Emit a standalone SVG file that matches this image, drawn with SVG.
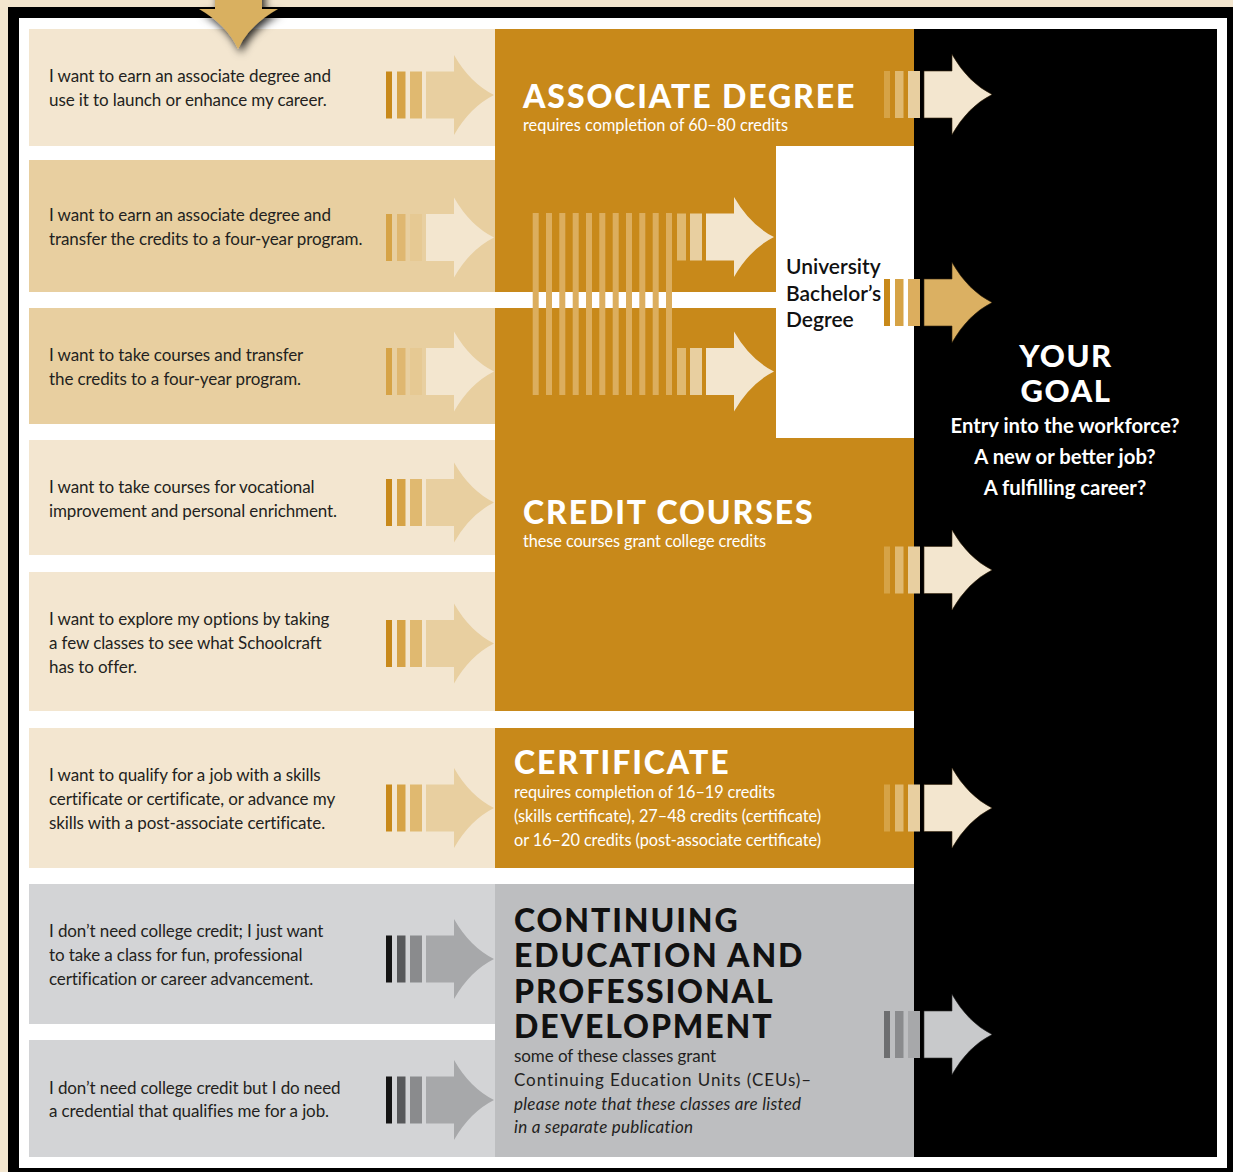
<svg xmlns="http://www.w3.org/2000/svg" xmlns:xlink="http://www.w3.org/1999/xlink" width="1233" height="1172" viewBox="0 0 1233 1172">
<style>
.body{font-family:Lato,"Open Sans","Liberation Sans",sans-serif;font-size:17px;letter-spacing:-0.1px;fill:#231f20}
.wsub{font-family:Lato,"Open Sans","Liberation Sans",sans-serif;font-size:16.3px;fill:#ffffff}
.ttl{font-family:Lato,"Open Sans","Liberation Sans",sans-serif;font-size:32px;font-weight:900;letter-spacing:1.9px}
.lt .s1{fill:#c8891a}.lt .s2{fill:#d6a346}.lt .s3{fill:#e0b970}.lt .a{fill:#e8cfa0}
.tn .s1{fill:#d6a346}.tn .s2{fill:#dfb770}.tn .s3{fill:#e6c993}.tn .a{fill:#f3e6cf}
.gr .s1{fill:#141414}.gr .s2{fill:#58595b}.gr .s3{fill:#8a8b8d}.gr .a{fill:#a7a8aa}
.rg .s1{fill:#d6a346}.rg .s2{fill:#e0b970}.rg .s3{fill:#e8cfa0}.rg .a{fill:#f3e6cf;stroke:#3a2a10;stroke-width:0.6}
.rb .s1{fill:#c8891a}.rb .s2{fill:#d6a346}.rb .s3{fill:#dcae5e}.rb .a{fill:#dbb062;stroke:#3a2a10;stroke-width:0.6}
.rc .s1{fill:#6d6e70}.rc .s2{fill:#8a8b8d}.rc .s3{fill:#a7a8aa}.rc .a{fill:#c8c9cb;stroke:#333;stroke-width:0.6}
.md .s2{fill:#e0b970}.md .s3{fill:#e8cfa0}.md .a{fill:#f3e6cf}
.stripe{fill:#dcae5e}
</style>
<defs>
<path id="arw" d="M0,-23.5 H28 V-40 Q44,-12 68,0 Q44,12 28,40 V23.5 H0 Z"/>
<filter id="sh" x="-50%" y="-50%" width="200%" height="200%">
<feDropShadow dx="3" dy="4" stdDeviation="4" flood-color="#000" flood-opacity="0.85"/>
</filter>
</defs>

<!-- background and frame -->
<rect x="0" y="0" width="1233" height="1172" fill="#f3e6cf"/>
<rect x="8" y="7" width="1225" height="1165" fill="#000"/>
<rect x="19" y="18" width="1208" height="1150" fill="#ffffff"/>

<!-- left rows -->
<g id="row1"><rect x="29" y="29" width="466" height="117" fill="#f3e6d0"/>
<text class="body" x="49" y="82">I want to earn an associate degree and</text>
<text class="body" x="49" y="106">use it to launch or enhance my career.</text></g>
<g id="row2"><rect x="29" y="160" width="466" height="132" fill="#e8cfa0"/>
<text class="body" x="49" y="221">I want to earn an associate degree and</text>
<text class="body" x="49" y="245">transfer the credits to a four-year program.</text></g>
<g id="row3"><rect x="29" y="308" width="466" height="116" fill="#e8cfa0"/>
<text class="body" x="49" y="361">I want to take courses and transfer</text>
<text class="body" x="49" y="385">the credits to a four-year program.</text></g>
<g id="row4"><rect x="29" y="440" width="466" height="115" fill="#f3e6d0"/>
<text class="body" x="49" y="493">I want to take courses for vocational</text>
<text class="body" x="49" y="517">improvement and personal enrichment.</text></g>
<g id="row5"><rect x="29" y="572" width="466" height="139" fill="#f3e6d0"/>
<text class="body" x="49" y="625">I want to explore my options by taking</text>
<text class="body" x="49" y="649">a few classes to see what Schoolcraft</text>
<text class="body" x="49" y="673">has to offer.</text></g>
<g id="row6"><rect x="29" y="728" width="466" height="140" fill="#f3e6d0"/>
<text class="body" x="49" y="781">I want to qualify for a job with a skills</text>
<text class="body" x="49" y="805">certificate or certificate, or advance my</text>
<text class="body" x="49" y="829">skills with a post-associate certificate.</text></g>
<g id="row7"><rect x="29" y="884" width="466" height="140" fill="#d3d4d6"/>
<text class="body" x="49" y="937">I don’t need college credit; I just want</text>
<text class="body" x="49" y="961">to take a class for fun, professional</text>
<text class="body" x="49" y="985">certification or career advancement.</text></g>
<g id="row8"><rect x="29" y="1040" width="466" height="117" fill="#d3d4d6"/>
<text class="body" x="49" y="1094">I don’t need college credit but I do need</text>
<text class="body" x="49" y="1117">a credential that qualifies me for a job.</text></g>

<!-- middle column -->
<g id="gold-panel">
<rect x="495" y="29" width="419" height="682" fill="#c8891a"/>
<rect x="495" y="292" width="281" height="16" fill="#ffffff"/>
</g>
<g id="associate-degree">
<text class="ttl" x="523" y="108" fill="#ffffff">ASSOCIATE DEGREE</text>
<text class="wsub" x="523" y="131" textLength="265">requires completion of 60–80 credits</text>
</g>
<g id="bachelor">
<rect x="776" y="146" width="138" height="292" fill="#ffffff"/>
<text x="786" y="274" font-family="Lato,'Open Sans','Liberation Sans',sans-serif" font-size="21" font-weight="600" fill="#111">University</text>
<text x="786" y="301" font-family="Lato,'Open Sans','Liberation Sans',sans-serif" font-size="21" font-weight="600" fill="#111">Bachelor’s</text>
<text x="786" y="327" font-family="Lato,'Open Sans','Liberation Sans',sans-serif" font-size="21" font-weight="600" fill="#111">Degree</text>
</g>
<g id="credit-courses">
<text class="ttl" x="523" y="524" fill="#ffffff">CREDIT COURSES</text>
<text class="wsub" x="523" y="547" textLength="243">these courses grant college credits</text>
</g>
<g id="certificate">
<rect x="495" y="728" width="419" height="140" fill="#c8891a"/>
<text class="ttl" x="514" y="774" fill="#ffffff">CERTIFICATE</text>
<text class="wsub" x="514" y="798" textLength="261">requires completion of 16–19 credits</text>
<text class="wsub" x="514" y="822" textLength="307">(skills certificate), 27–48 credits (certificate)</text>
<text class="wsub" x="514" y="846" textLength="307">or 16–20 credits (post-associate certificate)</text>
</g>
<g id="continuing-education">
<rect x="495" y="884" width="419" height="273" fill="#bdbec0"/>
<text class="ttl" x="514" y="932" fill="#111">CONTINUING</text>
<text class="ttl" x="514" y="967" fill="#111">EDUCATION AND</text>
<text class="ttl" x="514" y="1003" fill="#111">PROFESSIONAL</text>
<text class="ttl" x="514" y="1038" fill="#111">DEVELOPMENT</text>
<text class="body" x="514" y="1062" textLength="202">some of these classes grant</text>
<text class="body" x="514" y="1086" font-size="17.8" textLength="297">Continuing Education Units (CEUs)–</text>
<text class="body" x="514" y="1110" font-style="italic" textLength="287">please note that these classes are listed</text>
<text class="body" x="514" y="1133" font-style="italic" textLength="179">in a separate publication</text>
</g>

<!-- goal column -->
<g id="your-goal">
<rect x="914" y="29" width="303" height="1128" fill="#000"/>
<text x="1066" y="367" text-anchor="middle" font-family="Lato,'Open Sans','Liberation Sans',sans-serif" font-size="31" font-weight="900" letter-spacing="1.5" fill="#fff">YOUR</text>
<text x="1066" y="402" text-anchor="middle" font-family="Lato,'Open Sans','Liberation Sans',sans-serif" font-size="31" font-weight="900" letter-spacing="1.5" fill="#fff">GOAL</text>
<text x="1065" y="433" text-anchor="middle" font-family="Lato,'Open Sans','Liberation Sans',sans-serif" font-size="20.3" font-weight="700" fill="#fff">Entry into the workforce?</text>
<text x="1065" y="464" text-anchor="middle" font-family="Lato,'Open Sans','Liberation Sans',sans-serif" font-size="20.3" font-weight="700" fill="#fff">A new or better job?</text>
<text x="1065" y="495" text-anchor="middle" font-family="Lato,'Open Sans','Liberation Sans',sans-serif" font-size="20.3" font-weight="700" fill="#fff">A fulfilling career?</text>
</g>

<!-- connectors (striped arrows) -->
<g id="connectors">
<g class="entry" filter="url(#sh)"><path d="M215,-20 H262 V9 H278 Q249,25 238,49 Q227,25 199,9 H215 Z" fill="#d9b060"/></g>
<g class="lt" transform="translate(426,95)"><rect class="s1" x="-40" y="-23.5" width="6" height="47"/><rect class="s2" x="-29" y="-23.5" width="8.5" height="47"/><rect class="s3" x="-16" y="-23.5" width="12" height="47"/><use class="a" href="#arw"/></g>
<g class="tn" transform="translate(426,237.5)"><rect class="s1" x="-40" y="-23.5" width="6" height="47"/><rect class="s2" x="-29" y="-23.5" width="8.5" height="47"/><rect class="s3" x="-16" y="-23.5" width="12" height="47"/><use class="a" href="#arw"/></g>
<g class="tn" transform="translate(426,371.5)"><rect class="s1" x="-40" y="-23.5" width="6" height="47"/><rect class="s2" x="-29" y="-23.5" width="8.5" height="47"/><rect class="s3" x="-16" y="-23.5" width="12" height="47"/><use class="a" href="#arw"/></g>
<g class="lt" transform="translate(426,502.5)"><rect class="s1" x="-40" y="-23.5" width="6" height="47"/><rect class="s2" x="-29" y="-23.5" width="8.5" height="47"/><rect class="s3" x="-16" y="-23.5" width="12" height="47"/><use class="a" href="#arw"/></g>
<g class="lt" transform="translate(426,643.5)"><rect class="s1" x="-40" y="-23.5" width="6" height="47"/><rect class="s2" x="-29" y="-23.5" width="8.5" height="47"/><rect class="s3" x="-16" y="-23.5" width="12" height="47"/><use class="a" href="#arw"/></g>
<g class="lt" transform="translate(426,808)"><rect class="s1" x="-40" y="-23.5" width="6" height="47"/><rect class="s2" x="-29" y="-23.5" width="8.5" height="47"/><rect class="s3" x="-16" y="-23.5" width="12" height="47"/><use class="a" href="#arw"/></g>
<g class="gr" transform="translate(426,959)"><rect class="s1" x="-40" y="-23.5" width="6" height="47"/><rect class="s2" x="-29" y="-23.5" width="8.5" height="47"/><rect class="s3" x="-16" y="-23.5" width="12" height="47"/><use class="a" href="#arw"/></g>
<g class="gr" transform="translate(426,1100)"><rect class="s1" x="-40" y="-23.5" width="6" height="47"/><rect class="s2" x="-29" y="-23.5" width="8.5" height="47"/><rect class="s3" x="-16" y="-23.5" width="12" height="47"/><use class="a" href="#arw"/></g>
<g class="stripes">
<rect class="stripe" x="532.7" y="213" width="6" height="182"/>
<rect class="stripe" x="546" y="213" width="6" height="182"/>
<rect class="stripe" x="559.3" y="213" width="6" height="182"/>
<rect class="stripe" x="572.7" y="213" width="6" height="182"/>
<rect class="stripe" x="586" y="213" width="6" height="182"/>
<rect class="stripe" x="599.3" y="213" width="6" height="182"/>
<rect class="stripe" x="612.7" y="213" width="6" height="182"/>
<rect class="stripe" x="626" y="213" width="6" height="182"/>
<rect class="stripe" x="639.3" y="213" width="6" height="182"/>
<rect class="stripe" x="652.7" y="213" width="6" height="182"/>
<rect class="stripe" x="666" y="213" width="6" height="182"/>
</g>
<g class="md" transform="translate(706,237)"><rect class="s2" x="-29" y="-23.5" width="9" height="47"/><rect class="s3" x="-16" y="-23.5" width="12" height="47"/><use class="a" href="#arw"/></g>
<g class="md" transform="translate(706,371.5)"><rect class="s2" x="-29" y="-23.5" width="9" height="47"/><rect class="s3" x="-16" y="-23.5" width="12" height="47"/><use class="a" href="#arw"/></g>
<g class="rg" transform="translate(924,94.5)"><rect class="s1" x="-40" y="-23.5" width="6" height="47"/><rect class="s2" x="-29" y="-23.5" width="8.5" height="47"/><rect class="s3" x="-16" y="-23.5" width="12" height="47"/><use class="a" href="#arw"/></g>
<g class="rb" transform="translate(924,302.5)"><rect class="s1" x="-40" y="-23.5" width="6" height="47"/><rect class="s2" x="-29" y="-23.5" width="8.5" height="47"/><rect class="s3" x="-16" y="-23.5" width="12" height="47"/><use class="a" href="#arw"/></g>
<g class="rg" transform="translate(924,570)"><rect class="s1" x="-40" y="-23.5" width="6" height="47"/><rect class="s2" x="-29" y="-23.5" width="8.5" height="47"/><rect class="s3" x="-16" y="-23.5" width="12" height="47"/><use class="a" href="#arw"/></g>
<g class="rg" transform="translate(924,808)"><rect class="s1" x="-40" y="-23.5" width="6" height="47"/><rect class="s2" x="-29" y="-23.5" width="8.5" height="47"/><rect class="s3" x="-16" y="-23.5" width="12" height="47"/><use class="a" href="#arw"/></g>
<g class="rc" transform="translate(924,1034.5)"><rect class="s1" x="-40" y="-23.5" width="6" height="47"/><rect class="s2" x="-29" y="-23.5" width="8.5" height="47"/><rect class="s3" x="-16" y="-23.5" width="12" height="47"/><use class="a" href="#arw"/></g>
</g>
</svg>
